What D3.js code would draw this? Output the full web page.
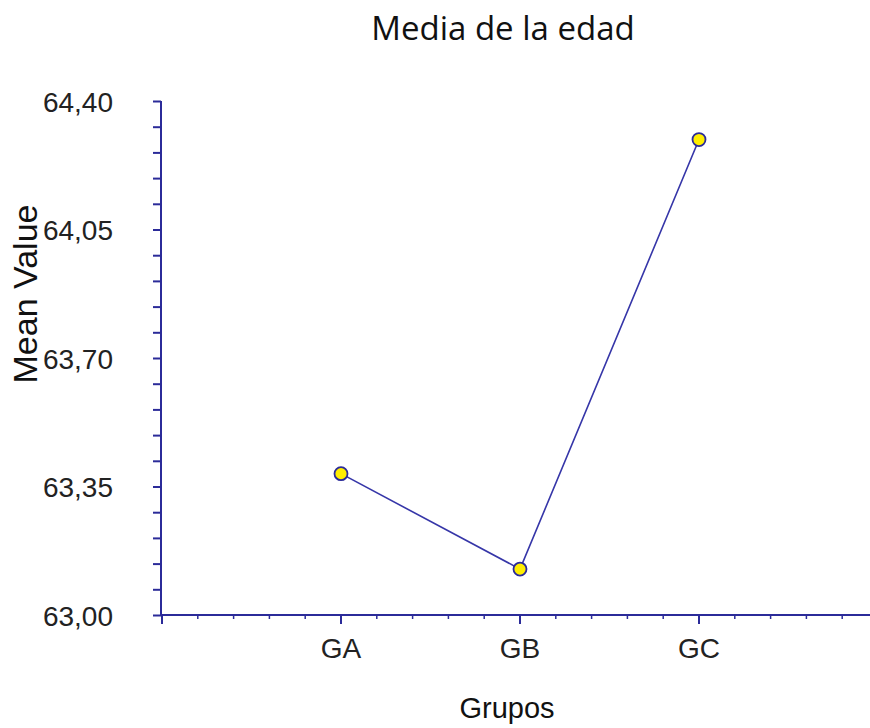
<!DOCTYPE html>
<html>
<head>
<meta charset="utf-8">
<script src="https://cdn.jsdelivr.net/npm/d3@7"></script>
<style>
  body { margin: 0; background: #fff; }
  svg { display: block; }
</style>
</head>
<body>
<svg id="chart" width="870" height="728"></svg>
<script>
// Group means of age
const categories = ["GA", "GB", "GC"];
const meanValues = [63.385, 63.125, 64.295];
const yTickValues = [63.00, 63.35, 63.70, 64.05, 64.40];

const axisColor = "#2b2b99";
const svg = d3.select("#chart");

const x = d3.scaleLinear().domain([0, 4]).range([162, 878]);
const y = d3.scaleLinear().domain([63.0, 64.4]).range([615, 101]);

const fmt = v => d3.format(".2f")(v).replace(".", ",");

// Y axis: major ticks with labels, minor ticks every 0.07
const yMinor = d3.range(0, 21).map(i => 63.0 + i * 0.07);
const yAxisG = svg.append("g").attr("transform", `translate(${x(0) - 1},0)`);
yAxisG.call(d3.axisLeft(y).tickValues(yMinor).tickSize(8).tickFormat(""));
yAxisG.call(g => g.selectAll(".tick text").remove());
yAxisG.selectAll("path, line").attr("stroke", axisColor).attr("stroke-width", 2);
yAxisG.select(".domain").attr("d", `M0,${y(63.0)}V${y(64.4)}`);

svg.append("g").selectAll("text").data(yTickValues).join("text")
  .attr("x", 113).attr("y", d => y(d) + 10.5)
  .attr("text-anchor", "end")
  .attr("font-family", "Liberation Sans, Arial, sans-serif")
  .attr("font-size", 28)
  .attr("fill", "#222")
  .text(fmt);

// X axis: category ticks plus minor ticks
const xMinor = d3.range(1, 20).map(i => i * 0.2).filter(v => x(v) < 868);
const xAxisG = svg.append("g").attr("transform", `translate(0,${y(63.0)})`);
xAxisG.append("line")
  .attr("x1", x(0) - 2).attr("x2", 870)
  .attr("stroke", axisColor).attr("stroke-width", 2);
xAxisG.selectAll("line.minor").data(xMinor.filter(v => Math.abs(v - Math.round(v)) > 1e-6 || Math.round(v) > 3))
  .join("line").attr("class", "minor")
  .attr("x1", d => x(d)).attr("x2", d => x(d))
  .attr("y1", 0).attr("y2", 4)
  .attr("stroke", axisColor).attr("stroke-width", 1.5);
xAxisG.selectAll("line.major").data([0, 1, 2, 3])
  .join("line").attr("class", "major")
  .attr("x1", d => x(d)).attr("x2", d => x(d))
  .attr("y1", 0).attr("y2", 9)
  .attr("stroke", axisColor).attr("stroke-width", 2);
xAxisG.selectAll("text").data(categories).join("text")
  .attr("x", (d, i) => x(i + 1)).attr("y", 43)
  .attr("text-anchor", "middle")
  .attr("font-family", "Liberation Sans, Arial, sans-serif")
  .attr("font-size", 28)
  .attr("fill", "#222")
  .text(d => d);

// Line and markers
const pts = categories.map((c, i) => ({ c, v: meanValues[i], i: i + 1 }));
svg.append("path")
  .datum(pts)
  .attr("fill", "none")
  .attr("stroke", "#3636a8")
  .attr("stroke-width", 1.6)
  .attr("d", d3.line().x(d => x(d.i)).y(d => y(d.v)));

svg.append("g").selectAll("circle").data(pts).join("circle")
  .attr("cx", d => x(d.i)).attr("cy", d => y(d.v))
  .attr("r", 6.5)
  .attr("fill", "#ffee00")
  .attr("stroke", "#2b2b99")
  .attr("stroke-width", 1.8);

// Titles
svg.append("text")
  .attr("x", 503).attr("y", 40)
  .attr("text-anchor", "middle")
  .attr("font-family", "Open Sans, sans-serif")
  .attr("font-size", 33)
  .attr("fill", "#111")
  .text("Media de la edad");

svg.append("text")
  .attr("x", 507).attr("y", 718)
  .attr("text-anchor", "middle")
  .attr("font-family", "Liberation Sans, Arial, sans-serif")
  .attr("font-size", 29)
  .attr("fill", "#111")
  .text("Grupos");

svg.append("text")
  .attr("transform", `translate(37,${294}) rotate(-90)`)
  .attr("text-anchor", "middle")
  .attr("font-family", "Liberation Sans, Arial, sans-serif")
  .attr("font-size", 34)
  .attr("fill", "#111")
  .text("Mean Value");
</script>
</body>
</html>
